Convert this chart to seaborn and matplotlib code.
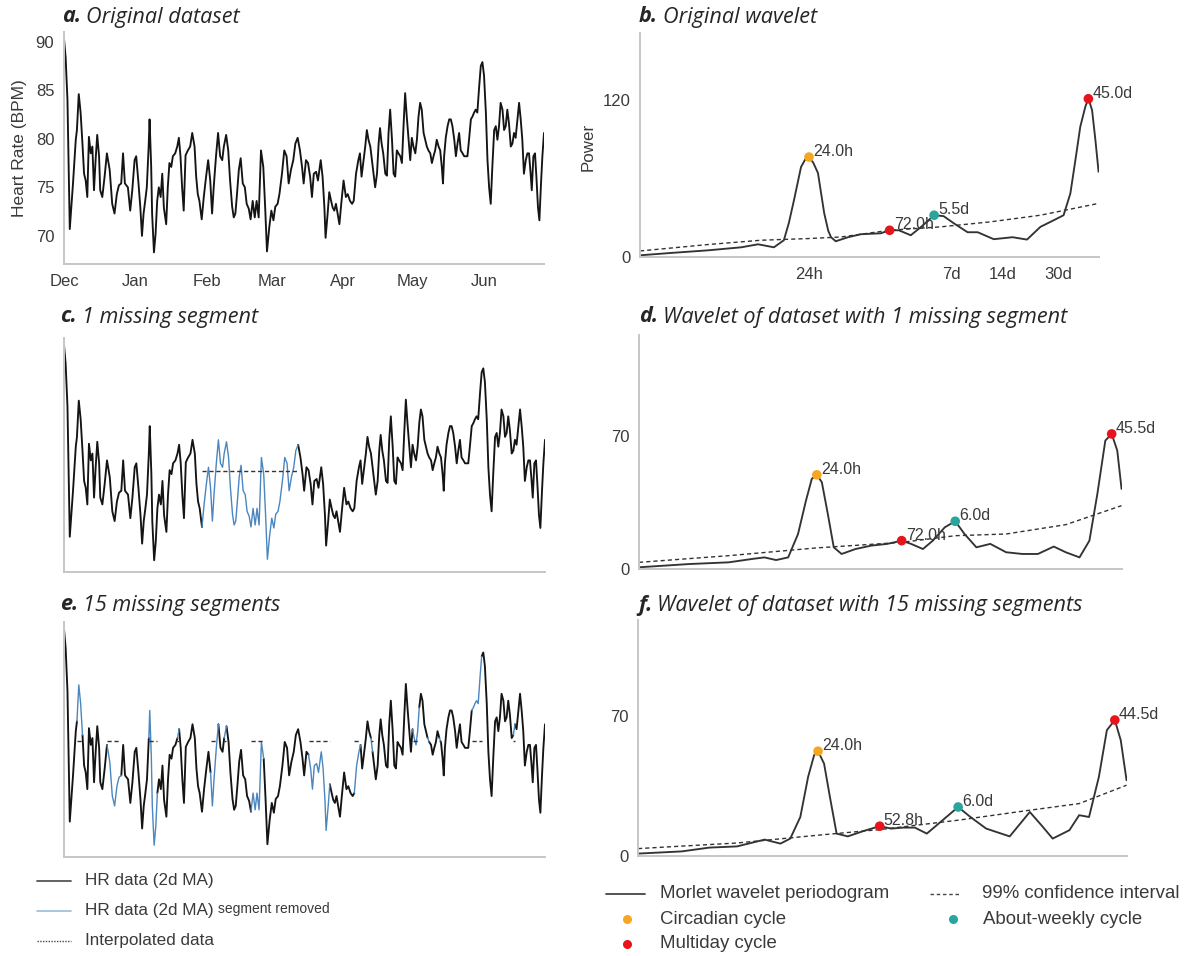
import numpy as np
import pandas as pd
import matplotlib
matplotlib.use("Agg")
import matplotlib.pyplot as plt
import matplotlib.dates as mdates
from matplotlib.lines import Line2D
from matplotlib.ticker import NullLocator
import seaborn as sns

# ---------------------------------------------------------------------------
# Heart-rate series (2-day moving average), (day offset from 1 Dec, BPM)
# ---------------------------------------------------------------------------
hr_dec_mar = [
    (0.0, 90.3), (0.7, 88.4), (1.5, 84.0), (2.5, 70.7), (3.9, 75.4), (5.1, 79.9),
    (5.6, 80.9), (6.4, 84.6), (7.2, 82.7), (8.0, 79.5), (8.7, 76.4), (9.4, 75.7),
    (10.1, 74.0), (10.8, 80.2), (11.6, 78.5), (12.3, 79.2), (13.0, 74.7), (13.7, 77.8),
    (14.4, 80.4), (15.2, 78.2), (15.7, 74.7), (16.6, 74.0), (17.6, 76.1), (18.6, 78.5),
    (19.8, 76.8), (20.9, 73.3), (21.9, 72.3), (22.9, 74.3), (23.8, 75.2), (24.8, 75.4),
    (25.6, 78.5), (26.4, 75.4), (27.7, 75.0), (28.7, 72.6), (29.6, 74.7), (30.6, 77.8),
    (31.3, 78.2), (32.2, 75.7), (33.1, 72.9), (33.8, 70.0), (34.5, 72.3), (35.2, 73.6),
    (35.9, 75.0), (36.7, 79.2), (37.1, 82.0), (37.8, 77.1), (38.2, 72.3), (39.0, 68.3),
    (39.7, 70.2), (40.4, 73.6), (41.1, 75.0), (41.9, 74.0), (42.6, 76.4), (43.3, 72.9),
    (44.3, 71.2), (45.0, 75.0), (45.7, 77.5), (46.5, 77.1), (47.2, 78.2), (48.2, 78.5),
    (49.1, 79.2), (49.8, 80.1), (50.5, 78.2), (51.2, 75.0), (51.9, 72.6), (52.7, 78.3),
    (53.7, 78.8), (54.7, 79.2), (55.6, 80.6), (56.6, 79.2), (57.3, 76.1), (58.0, 74.3),
    (58.7, 73.6), (59.7, 71.7), (60.6, 74.0), (61.6, 76.1), (62.5, 77.8), (63.4, 75.7),
    (64.2, 72.3), (64.9, 75.0), (65.9, 78.2), (66.8, 80.6), (67.7, 78.2), (68.6, 77.8),
    (69.3, 79.2), (70.3, 80.4), (71.2, 78.8), (72.0, 75.7), (72.9, 73.0), (73.6, 71.9),
    (74.3, 72.3), (75.0, 74.3), (75.8, 76.8), (76.6, 78.0), (77.5, 75.4), (78.4, 75.0),
    (79.2, 73.3), (80.1, 72.8), (80.9, 71.7), (81.8, 73.6), (82.7, 71.9), (83.5, 73.6),
    (84.4, 71.9), (85.4, 78.8), (86.4, 77.1), (87.2, 73.0), (88.0, 68.4), (89.0, 70.9),
    (89.9, 72.6), (90.8, 71.6), (91.6, 73.0), (92.6, 73.3), (93.4, 74.3), (94.5, 76.4),
    (95.5, 78.8), (96.5, 78.2), (97.4, 75.4), (98.4, 76.8), (99.4, 77.8), (100.3, 79.5),
    (101.3, 80.1),
]
hr_mar_jun = [
    (102.3, 78.8), (103.2, 77.1), (103.9, 75.4), (104.9, 77.8), (105.8, 77.5), (106.7, 76.1),
    (107.5, 74.0), (108.3, 76.4), (109.3, 76.6), (110.1, 75.7), (111.3, 77.8), (112.1, 76.1),
    (112.9, 72.9), (113.4, 69.8), (114.3, 72.3), (115.0, 74.5), (115.8, 73.6), (116.5, 72.9),
    (117.2, 72.6), (117.9, 73.3), (118.6, 72.3), (119.4, 71.2), (120.2, 73.3), (121.2, 75.7),
    (122.2, 74.0), (123.0, 74.3), (124.0, 73.6), (124.9, 73.3), (125.6, 73.6), (126.6, 76.4),
    (127.6, 77.8), (128.3, 78.5), (129.0, 76.1), (129.9, 77.8), (130.6, 79.2), (131.3, 80.9),
    (132.0, 79.9), (132.8, 79.2), (133.5, 77.8), (134.2, 76.4), (134.9, 75.0), (135.7, 76.4),
    (136.4, 79.5), (137.0, 81.1), (137.7, 79.5), (138.4, 78.5), (139.3, 76.4), (140.0, 76.2),
    (140.7, 80.6), (141.4, 83.0), (142.2, 79.9), (142.9, 76.4), (143.6, 76.1), (144.3, 78.8),
    (145.0, 78.5), (145.8, 78.2), (146.5, 77.5), (147.2, 81.3), (147.9, 84.7), (148.6, 82.3),
    (149.4, 79.9), (150.1, 77.8), (150.8, 80.1), (151.5, 79.2), (152.3, 78.5), (153.0, 79.9),
    (153.7, 82.3), (154.4, 83.7), (155.1, 83.0), (155.9, 80.6), (156.6, 79.9), (157.3, 79.2),
    (158.0, 78.8), (158.8, 78.5), (159.5, 77.5), (160.2, 78.2), (160.9, 78.8), (161.6, 79.9),
    (162.4, 79.2), (163.1, 78.8), (163.8, 77.1), (164.3, 75.4), (164.8, 78.2), (165.5, 80.1),
    (166.3, 81.3), (167.0, 82.0), (167.7, 82.0), (168.4, 81.3), (169.2, 79.9), (169.9, 78.2),
    (170.6, 79.5), (171.3, 80.6), (172.0, 78.8), (172.8, 78.5), (173.5, 78.2), (174.2, 78.2),
    (174.9, 78.2), (175.6, 79.9), (176.4, 82.0), (177.1, 82.3), (177.8, 82.7), (178.5, 83.0),
    (179.2, 82.7), (180.0, 85.4), (180.7, 87.5), (181.4, 87.9), (182.1, 86.5), (182.9, 82.7),
    (183.6, 77.8), (184.3, 75.0), (185.0, 73.3), (185.7, 77.1), (186.5, 80.9), (187.2, 81.3),
    (187.9, 79.9), (188.6, 81.3), (189.3, 83.7), (190.1, 83.0), (190.8, 80.9), (191.5, 81.3),
    (192.2, 83.0), (192.9, 81.6), (193.7, 79.2), (194.4, 79.5), (195.1, 80.6), (195.8, 80.1),
    (196.6, 82.0), (197.3, 83.7), (198.0, 82.0), (198.7, 79.9), (199.4, 76.4), (200.2, 77.8),
    (200.9, 78.5), (201.6, 78.5), (202.3, 76.4), (202.8, 74.7), (203.5, 78.2), (204.2, 78.5),
    (204.8, 76.1), (205.5, 72.9), (206.1, 71.6), (206.8, 75.4), (207.4, 78.2), (208.1, 80.6),
]

# removed segments (start day, end day) and the constant used to fill them
gaps_one = [(59.7, 101.3)]
fill_one = 77.4
gaps_fifteen = [
    (5.6, 8.0), (18.6, 24.8), (36.7, 40.4), (49.1, 49.8), (63.4, 66.8),
    (69.3, 70.3), (80.9, 86.4), (105.8, 115.0), (125.6, 128.3), (132.8, 133.5),
    (150.8, 153.7), (157.3, 158.0), (162.4, 163.1), (176.4, 180.7), (194.4, 195.1),
]
fill_fifteen = 78.9

# ---------------------------------------------------------------------------
# Morlet wavelet periodograms: period (days) and power
# ---------------------------------------------------------------------------
orig_period = [0.1, 0.153, 0.253, 0.397, 0.50, 0.62, 0.71, 0.76, 0.815, 0.897, 0.95, 1.0,
               1.06, 1.13, 1.23, 1.30, 1.35, 1.44, 1.70, 2.03, 2.66, 3.0, 3.40, 4.0, 4.58,
               5.5, 6.26, 7.18, 8.68, 9.96, 12.4, 16.0, 19.5, 23.4, 28.1, 32.1, 35.2, 37.7,
               40.3, 43.2, 45.0, 47.3, 49.5, 51.7]
orig_power = [1.3, 3.1, 5.1, 7.4, 9.7, 7.4, 12.8, 26.0, 43.4, 68.7, 74.5, 76.3,
              72.0, 64.1, 33.5, 20.0, 15.1, 12.0, 15.1, 17.4, 18.1, 20.4, 20.4, 16.6, 22.7,
              31.9, 31.2, 25.8, 18.9, 18.9, 13.6, 15.1, 13.3, 23.0, 28.1, 31.9, 48.5, 74.0,
              99.5, 114.9, 120.8, 112.3, 89.4, 65.1]
orig_ci_period = [0.1, 0.252, 0.52, 1.0, 1.55, 3.0, 6.0, 11.8, 23.4, 51.7]
orig_ci_power = [4.6, 9.5, 12.8, 14.1, 15.3, 20.4, 23.0, 26.8, 31.9, 40.9]

one_period = [0.1, 0.191, 0.319, 0.434, 0.507, 0.59, 0.69, 0.784, 0.869, 0.937, 1.0,
              1.067, 1.153, 1.245, 1.378, 1.649, 2.026, 2.488, 3.0, 3.388, 3.95, 4.49,
              5.24, 6.0, 6.77, 7.89, 9.45, 11.6, 14.3, 17.5, 21.5, 25.1, 30.0, 34.1,
              37.8, 41.9, 45.5, 48.9, 51.7]
one_power = [0.9, 2.6, 3.5, 5.3, 6.1, 4.7, 6.1, 18.4, 36.0, 47.4, 49.5,
             45.6, 28.9, 11.4, 7.9, 10.5, 12.3, 13.2, 14.9, 13.2, 10.5, 14.9,
             21.9, 25.1, 18.4, 11.4, 13.2, 8.8, 7.9, 7.9, 11.8, 8.8, 6.1, 14.9,
             39.5, 67.5, 71.0, 62.3, 42.1]
one_ci_period = [0.1, 0.319, 1.0, 3.0, 6.0, 11.6, 25.1, 51.7]
one_ci_power = [3.5, 7.0, 11.1, 14.0, 17.5, 18.4, 23.3, 33.3]

fifteen_period = [0.1, 0.175, 0.249, 0.355, 0.505, 0.618, 0.701, 0.797, 0.881, 0.951,
                  1.0, 1.08, 1.164, 1.268, 1.462, 1.79, 2.2, 2.55, 2.97, 3.45, 4.02,
                  4.92, 6.0, 7.02, 8.59, 11.6, 15.0, 17.4, 20.1, 24.9, 28.2, 32.0,
                  36.3, 40.2, 44.5, 48.0, 51.7]
fifteen_power = [1.2, 2.3, 4.2, 4.8, 8.2, 6.2, 8.7, 19.5, 39.6, 50.4,
                 52.4, 46.2, 29.5, 11.2, 9.8, 12.5, 14.9, 13.7, 14.2, 14.2, 11.2,
                 17.9, 24.5, 19.5, 13.7, 9.8, 22.0, 15.4, 8.7, 12.9, 20.4, 19.5,
                 39.6, 62.9, 68.0, 57.9, 37.9]
fifteen_ci_period = [0.1, 0.355, 1.0, 2.2, 6.0, 15.0, 28.2, 51.7]
fifteen_ci_power = [3.7, 6.5, 10.4, 13.2, 17.9, 22.9, 26.2, 35.4]

# highlighted peaks: (period in days, power, label, cycle)
orig_peaks = [(1.0, 76.3, "24.0h", "circadian"), (3.0, 20.4, "72.0h", "multiday"),
              (5.5, 31.9, "5.5d", "weekly"), (45.0, 120.8, "45.0d", "multiday")]
one_peaks = [(1.0, 49.5, "24.0h", "circadian"), (3.0, 14.9, "72.0h", "multiday"),
             (6.0, 25.1, "6.0d", "weekly"), (45.5, 71.0, "45.5d", "multiday")]
fifteen_peaks = [(1.0, 52.4, "24.0h", "circadian"), (2.2, 14.9, "52.8h", "multiday"),
                 (6.0, 24.5, "6.0d", "weekly"), (44.5, 68.0, "44.5d", "multiday")]

period_ticks = [1, 7, 14, 30]
period_tick_labels = ["24h", "7d", "14d", "30d"]

# ---------------------------------------------------------------------------
# Style
# ---------------------------------------------------------------------------
CYCLE_COLORS = {"circadian": "#f5a623", "multiday": "#e8141b", "weekly": "#2aa59e"}
HR_BLACK = "#141414"
HR_BLUE = "#4a86bf"
CURVE = "#333333"
TEXT = "#3a3a3a"

sns.set_theme(style="white", rc={
    "axes.edgecolor": "#c6c6c6",
    "axes.linewidth": 1.4,
    "xtick.color": TEXT,
    "ytick.color": TEXT,
    "axes.labelcolor": TEXT,
    "lines.solid_joinstyle": "round",
    "lines.solid_capstyle": "round",
})
plt.rcParams["font.family"] = ["Liberation Sans", "DejaVu Sans"]

W, H = 1192, 956
fig = plt.figure(figsize=(W / 100, H / 100), dpi=100)
fig.patch.set_facecolor("white")


def axes_px(left, top, right, bottom):
    return fig.add_axes([left / W, 1 - bottom / H, (right - left) / W, (bottom - top) / H])


def fx(x):
    return x / W


def fy(y):
    return 1 - y / H


ax_a = axes_px(64, 32, 544, 264)
ax_b = axes_px(640, 33, 1099, 257)
ax_c = axes_px(64, 338, 545, 572)
ax_d = axes_px(639, 335, 1122, 569)
ax_e = axes_px(64, 622, 545, 857)
ax_f = axes_px(638, 620, 1127, 856)

for ax in (ax_a, ax_b, ax_c, ax_d, ax_e, ax_f):
    sns.despine(ax=ax)
    ax.set_facecolor("white")
    ax.tick_params(length=0, pad=7, labelsize=12, labelcolor=TEXT)

# ---------------------------------------------------------------------------
# Heart-rate panels
# ---------------------------------------------------------------------------
START = pd.Timestamp("2018-12-01")
hr = pd.DataFrame(hr_dec_mar + hr_mar_jun, columns=["day", "bpm"])
hr["date"] = START + pd.to_timedelta(hr["day"], unit="D")
END_DAY = hr["day"].max()
EPS = 1e-6


def draw_hr(ax, gaps, fill):
    d = hr["day"].to_numpy()
    edges = [(-np.inf, -np.inf)] + sorted(gaps) + [(np.inf, np.inf)]
    pieces = []
    for k in range(len(edges) - 1):
        lo, hi = edges[k][1], edges[k + 1][0]
        m = (d >= lo - EPS) & (d <= hi + EPS)
        if m.sum() > 1:
            pieces.append(hr[m].assign(piece=k))
    black = pd.concat(pieces, ignore_index=True)
    sns.lineplot(data=black, x="date", y="bpm", units="piece", estimator=None,
                 color=HR_BLACK, lw=1.35, ax=ax, legend=False)
    if gaps:
        blue = pd.concat([hr[(d >= s - EPS) & (d <= e + EPS)].assign(piece=k)
                          for k, (s, e) in enumerate(gaps)], ignore_index=True)
        sns.lineplot(data=blue, x="date", y="bpm", units="piece", estimator=None,
                     color=HR_BLUE, lw=1.0, ax=ax, legend=False)
        rows = []
        for k, (s, e) in enumerate(gaps):
            rows.append((k, START + pd.Timedelta(days=s), fill))
            rows.append((k, START + pd.Timedelta(days=e), fill))
        interp = pd.DataFrame(rows, columns=["piece", "date", "bpm"])
        sns.lineplot(data=interp, x="date", y="bpm", units="piece", estimator=None,
                     color="#333333", lw=1.0, linestyle=(0, (3, 2)), ax=ax,
                     legend=False, zorder=4)
    ax.set_xlim(START, START + pd.Timedelta(days=END_DAY))
    ax.set_ylim(67.1, 91.0)
    ax.set_xlabel("")
    ax.set_ylabel("")


draw_hr(ax_a, [], None)
draw_hr(ax_c, gaps_one, fill_one)
draw_hr(ax_e, gaps_fifteen, fill_fifteen)

ax_a.xaxis.set_major_locator(mdates.MonthLocator())
ax_a.xaxis.set_major_formatter(mdates.DateFormatter("%b"))
ax_a.set_yticks([70, 75, 80, 85, 90])
ax_a.set_ylabel("Heart Rate (BPM)", fontsize=12.5)
ax_a.yaxis.set_label_coords(-0.078, 0.5)

for ax, fill in ((ax_c, fill_one), (ax_e, fill_fifteen)):
    ax.set_xticks([])
    ax.set_yticks([fill])
    ax.set_yticklabels([])
    ax.tick_params(axis="y", length=2.5, width=0.8, color="#9a9a9a")

# ---------------------------------------------------------------------------
# Wavelet panels
# ---------------------------------------------------------------------------


def draw_wavelet(ax, period, power, ci_period, ci_power, peaks, ymax, ytop):
    sns.lineplot(x=period, y=power, ax=ax, color=CURVE, lw=1.35,
                 estimator=None, sort=False)
    sns.lineplot(x=ci_period, y=ci_power, ax=ax, color=CURVE, lw=1.0,
                 estimator=None, sort=False, linestyle=(0, (3, 2.2)))
    for p, v, label, cycle in peaks:
        sns.scatterplot(x=[p], y=[v], ax=ax, color=CYCLE_COLORS[cycle], s=48,
                        edgecolor="none", zorder=5, legend=False)
        ax.annotate(label, (p, v), xytext=(3, -1.5), textcoords="offset points",
                    ha="left", va="bottom", fontsize=11.5, color=TEXT, zorder=6)
    ax.set_xscale("log")
    ax.set_xlim(0.1, 52)
    ax.xaxis.set_minor_locator(NullLocator())
    ax.set_ylim(0, ytop)
    ax.set_yticks([0, ymax])
    ax.set_xlabel("")
    ax.set_ylabel("")


draw_wavelet(ax_b, orig_period, orig_power, orig_ci_period, orig_ci_power,
             orig_peaks, 120, 171)
draw_wavelet(ax_d, one_period, one_power, one_ci_period, one_ci_power,
             one_peaks, 70, 123)
draw_wavelet(ax_f, fifteen_period, fifteen_power, fifteen_ci_period, fifteen_ci_power,
             fifteen_peaks, 70, 118)

ax_b.set_xticks(period_ticks)
ax_b.set_xticklabels(period_tick_labels)
ax_b.set_ylabel("Power", fontsize=12.2)
ax_b.yaxis.set_label_coords(-0.096, 0.49)
for ax in (ax_d, ax_f):
    ax.set_xticks([])

# ---------------------------------------------------------------------------
# Panel titles: bold italic tag followed by italic caption
# ---------------------------------------------------------------------------
titles = [
    (62, 17, "a.", "Original dataset"),
    (639, 17, "b.", "Original wavelet"),
    (60, 317, "c.", "1 missing segment"),
    (639, 317, "d.", "Wavelet of dataset with 1 missing segment"),
    (60, 605, "e.", "15 missing segments"),
    (638, 605, "f.", "Wavelet of dataset with 15 missing segments"),
]
TITLE_FONT = dict(family=["Open Sans", "DejaVu Sans"], style="italic", fontsize=15.6,
                  color="#262626")
renderer = fig.canvas.get_renderer()
for x, y, tag, caption in titles:
    t1 = fig.text(fx(x), fy(y), tag, ha="left", va="center", weight="bold", **TITLE_FONT)
    bb = t1.get_window_extent(renderer)
    fig.text(bb.x1 / W + 5 / W, fy(y), caption, ha="left", va="center", **TITLE_FONT)

# ---------------------------------------------------------------------------
# Legends drawn beneath the panels
# ---------------------------------------------------------------------------


def legend_line(x0, x1, y, **kw):
    fig.add_artist(Line2D([fx(x0), fx(x1)], [fy(y), fy(y)], transform=fig.transFigure, **kw))


def legend_dot(x, y, color):
    fig.add_artist(Line2D([fx(x)], [fy(y)], transform=fig.transFigure, marker="o",
                          markersize=6.5, markeredgewidth=0, color=color, linestyle="none"))


def legend_text(x, y, s, size, **kw):
    fig.text(fx(x), fy(y), s, ha="left", va="center", fontsize=size, color=TEXT, **kw)


# heart-rate legend
legend_line(37, 71, 881, color="#555555", lw=1.3)
legend_text(85, 881, "HR data (2d MA)", 12.3)
legend_line(37, 71, 911, color="#a3c1dd", lw=1.3)
legend_text(85, 911, "HR data (2d MA)", 12.3)
legend_text(218, 909, "segment removed", 10)
legend_line(37, 71, 941, color="#444444", lw=1.0, linestyle=(0, (1, 1)))
legend_text(85, 941, "Interpolated data", 12.3)

# wavelet legend
legend_line(606, 645, 894, color="#444444", lw=1.3)
legend_text(660, 894, "Morlet wavelet periodogram", 13.4)
legend_dot(627, 919, CYCLE_COLORS["circadian"])
legend_text(660, 919, "Circadian cycle", 13.4)
legend_dot(627, 944, CYCLE_COLORS["multiday"])
legend_text(660, 944, "Multiday cycle", 13.4)
legend_line(930, 961, 894, color="#444444", lw=1.0, linestyle=(0, (2.5, 2)))
legend_text(982, 894, "99% confidence interval", 13.4)
legend_dot(953, 919, CYCLE_COLORS["weekly"])
legend_text(983, 919, "About-weekly cycle", 13.4)

fig.savefig("out.png", dpi=100, facecolor="white")
